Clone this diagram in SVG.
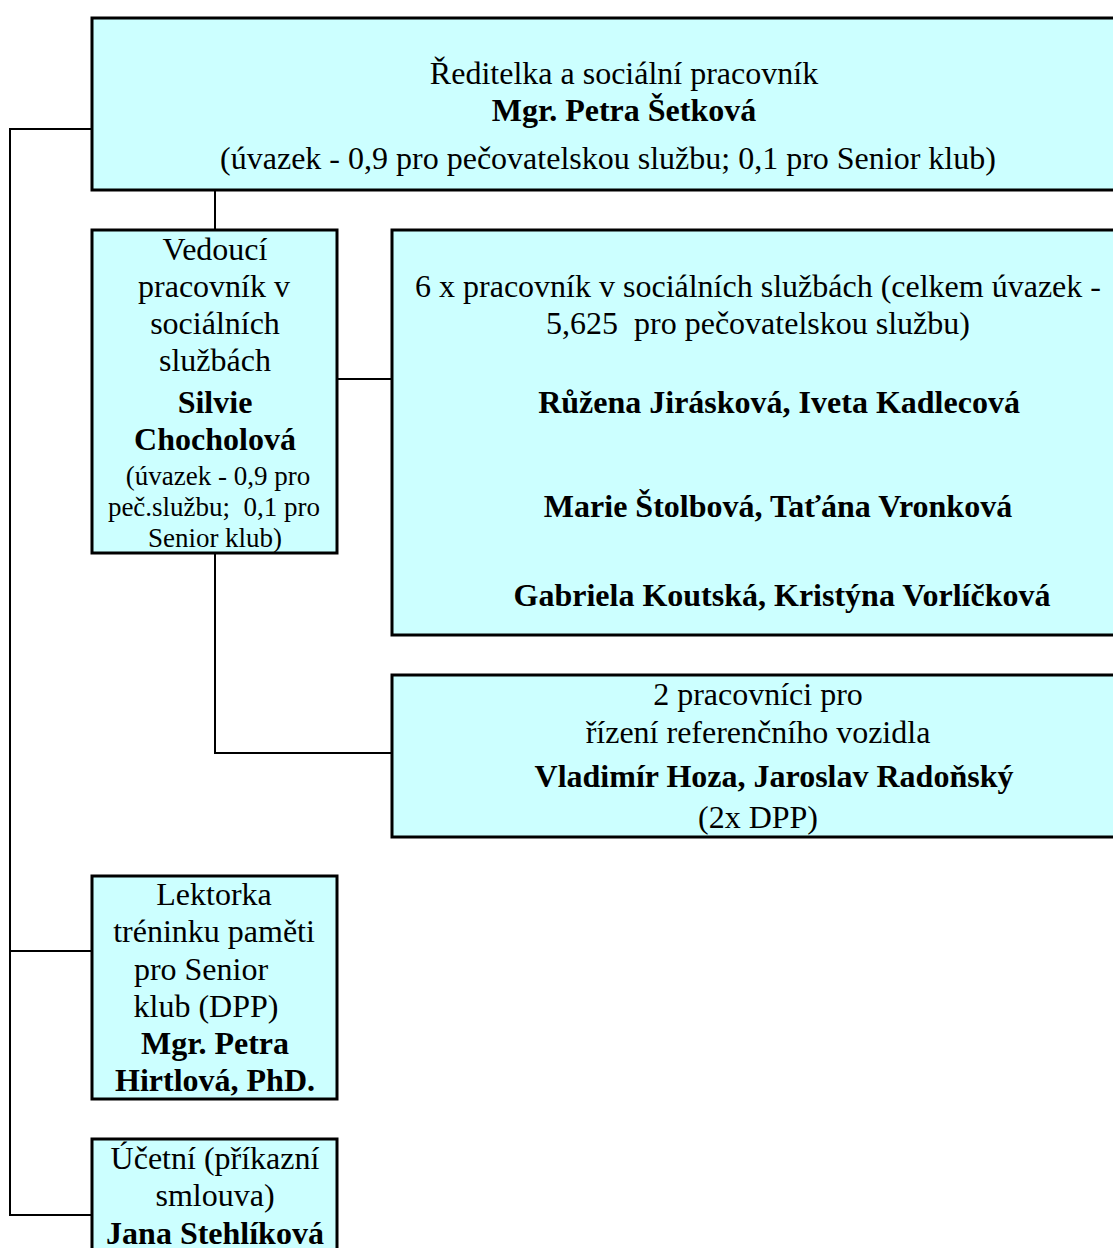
<svg xmlns="http://www.w3.org/2000/svg" width="1113" height="1248" viewBox="0 0 1113 1248">
<style>
.box{fill:#CCFFFF;stroke:#000;stroke-width:3}
.c{fill:none;stroke:#000;stroke-width:2}
text{font-family:"Liberation Serif","Times New Roman",serif;font-size:32px;fill:#000;text-anchor:middle}
.b{font-weight:bold}
.s{font-size:27px}
</style>
<rect width="1113" height="1248" fill="#fff"/>
<g id="connectors">
<polyline class="c" points="92,129 10,129 10,1215 92,1215"/>
<line class="c" x1="10" y1="951" x2="92" y2="951"/>
<line class="c" x1="215" y1="191" x2="215" y2="229"/>
<line class="c" x1="337" y1="379" x2="392" y2="379"/>
<polyline class="c" points="215,553 215,753 392,753"/>
</g>
<g id="director">
<rect class="box" x="92" y="18" width="1030" height="172"/>
<text x="624" y="84">Ředitelka a sociální pracovník</text>
<text class="b" x="624" y="121">Mgr. Petra Šetková</text>
<text x="608" y="169">(úvazek - 0,9 pro pečovatelskou službu; 0,1 pro Senior klub)</text>
</g>
<g id="vedouci">
<rect class="box" x="92" y="230" width="245" height="323"/>
<text x="215" y="260">Vedoucí</text>
<text x="214" y="297">pracovník v</text>
<text x="215" y="334">sociálních</text>
<text x="215" y="371">službách</text>
<text class="b" x="215" y="413">Silvie</text>
<text class="b" x="215" y="450">Chocholová</text>
<text class="s" x="218" y="485">(úvazek - 0,9 pro</text>
<text class="s" x="214" y="516" xml:space="preserve">peč.službu;  0,1 pro</text>
<text class="s" x="215" y="547">Senior klub)</text>
</g>
<g id="pracovnici">
<rect class="box" x="392" y="230" width="730" height="405"/>
<text x="758" y="297">6 x pracovník v sociálních službách (celkem úvazek -</text>
<text x="758" y="334" xml:space="preserve">5,625  pro pečovatelskou službu)</text>
<text class="b" x="779" y="413">Růžena Jirásková, Iveta Kadlecová</text>
<text class="b" x="778" y="517">Marie Štolbová, Taťána Vronková</text>
<text class="b" x="782" y="606">Gabriela Koutská, Kristýna Vorlíčková</text>
</g>
<g id="ridici">
<rect class="box" x="392" y="675" width="730" height="162"/>
<text x="758" y="705">2 pracovníci pro</text>
<text x="758" y="743">řízení referenčního vozidla</text>
<text class="b" x="774" y="787">Vladimír Hoza, Jaroslav Radoňský</text>
<text x="758" y="828">(2x DPP)</text>
</g>
<g id="lektorka">
<rect class="box" x="92" y="876" width="245" height="223"/>
<text x="214" y="905">Lektorka</text>
<text x="214" y="942">tréninku paměti</text>
<text x="201" y="980">pro Senior</text>
<text x="206" y="1017">klub (DPP)</text>
<text class="b" x="215" y="1054">Mgr. Petra</text>
<text class="b" x="215" y="1091">Hirtlová, PhD.</text>
</g>
<g id="ucetni">
<rect class="box" x="92" y="1139" width="245" height="130"/>
<text x="215" y="1169">Účetní (příkazní</text>
<text x="215" y="1206">smlouva)</text>
<text class="b" x="215" y="1244">Jana Stehlíková</text>
</g>
</svg>
